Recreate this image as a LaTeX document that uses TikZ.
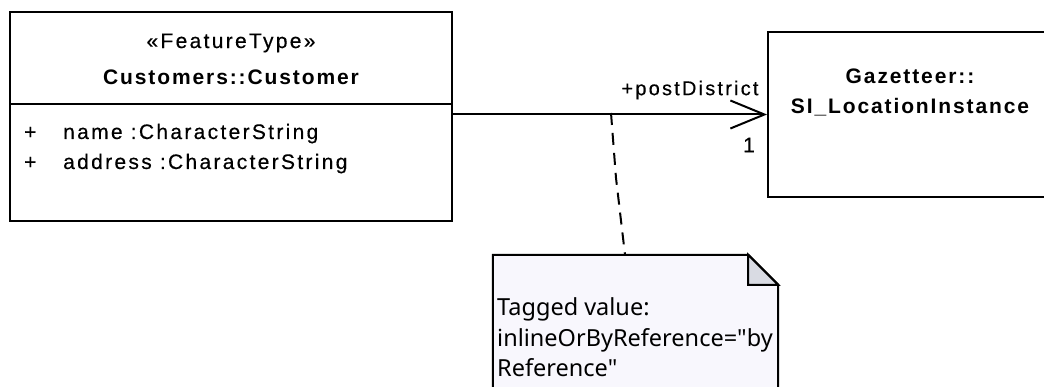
\documentclass[tikz,border=0pt]{standalone}
\usepackage{fontspec}
\setmainfont{Liberation Sans}
\newfontfamily\umlfont[LetterSpace=11,FakeBold=0.4]{Liberation Sans}
\newfontfamily\umltitlefont[LetterSpace=9]{Liberation Sans}
\newfontfamily\notefont{Noto Sans}
\usetikzlibrary{arrows.meta,positioning,calc}
\definecolor{notefill}{HTML}{F8F7FD}
\definecolor{foldfill}{HTML}{D9DBE3}
\tikzset{
  classbox/.style={
    draw=black,
    line width=2pt,
    rectangle,
    inner sep=0pt
  },
  stereo/.style={font=\umlfont\fontsize{21}{24}\selectfont, inner sep=0pt},
  classname/.style={font=\umltitlefont\bfseries\fontsize{21}{30}\selectfont, inner sep=0pt, align=center},
  attr/.style={font=\umlfont\fontsize{21}{24}\selectfont, inner sep=0pt, anchor=base west},
  rolelabel/.style={font=\umlfont\fontsize{20}{24}\selectfont, inner sep=0pt},
  assoc/.style={line width=2pt, -{Straight Barb[length=34pt,width=28pt,line width=2pt]}},
  anchorline/.style={line width=2pt, dash pattern=on 12pt off 8pt},
  notebody/.style={fill=notefill, draw=black, line width=2pt, line join=miter},
  notetext/.style={font=\notefont\fontsize{23.5}{30}\selectfont, inner sep=0pt, anchor=base west}
}

\begin{document}
\begin{tikzpicture}[x=1pt, y=-1pt]
  \useasboundingbox (0,0) rectangle (1044,387);
  \clip (0,0) rectangle (1044,387);
  % classes
  \node[classbox, minimum width=442pt, minimum height=209pt] (cust) at (231,116.5) {};
  \node[classbox, minimum width=284pt, minimum height=165pt] (gaz) at (910,114.5) {};
  \draw[line width=2pt] (cust.west |- 0,104) -- (cust.east |- 0,104);
  \node[stereo] (custst) at (231,43) {«FeatureType»};
  \node[classname] (custnm) at (231,77) {Customers::Customer};
  \node[attr] (plus1) at (24,139) {+};
  \node[attr] (attr1) at (63,139) {name :CharacterString};
  \node[attr] (plus2) at (24,169) {+};
  \node[attr] (attr2) at (63,169) {address :CharacterString};
  \node[classname] (gaznm) at (910,92) {Gazetteer::\\SI\_LocationInstance};
  % association
  \draw[assoc] (cust.east |- gaz.west) -- (gaz.west);
  \node[rolelabel] (role) at (690,90) {+postDistrict};
  \node[rolelabel, font=\umlfont\fontsize{21}{24}\selectfont] (mult) at (749,145) {1};
  % note
  \node[minimum width=285pt, minimum height=145pt, inner sep=0pt] (note) at (635.5,327.5) {};
  \draw[notebody] (note.south west) -- (note.north west) -- ([xshift=-30pt]note.north east)
    -- ([yshift=-30pt]note.north east) -- (note.south east);
  \draw[notebody, fill=foldfill] ([xshift=-30pt]note.north east) -- ([xshift=-30pt,yshift=-30pt]note.north east)
    -- ([yshift=-30pt]note.north east) -- cycle;
  \node[notetext] (note1) at (497,316) {Tagged value:};
  \node[notetext] (note2) at (497,346) {inlineOrByReference="by};
  \node[notetext] (note3) at (497,376) {Reference"};
  \coordinate (anc) at (611,113);
  \coordinate (kink) at (616,178);
  \draw[anchorline] (anc) -- (kink) -- ([xshift=-10.5pt]note.north);
\end{tikzpicture}
\end{document}
